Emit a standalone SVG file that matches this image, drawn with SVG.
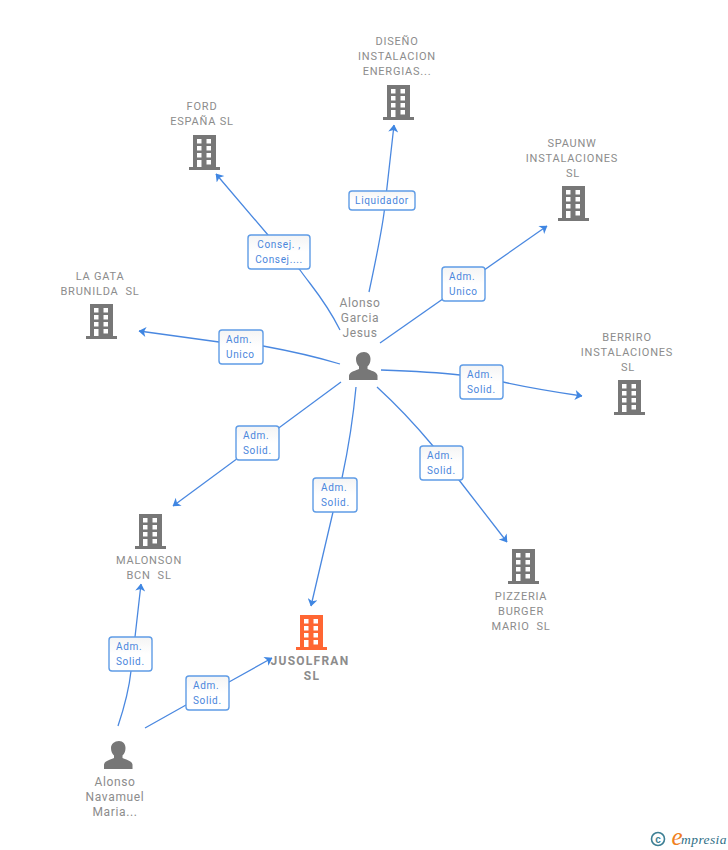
<svg xmlns="http://www.w3.org/2000/svg" width="728" height="850" viewBox="0 0 728 850">
<style>
text{font-family:Roboto,"Liberation Sans",sans-serif;text-anchor:middle}
.n{font-size:11px;fill:#8c8c8c;letter-spacing:.78px}
.p{font-size:12px;fill:#8c8c8c;letter-spacing:.65px}
.l{font-size:10px;fill:#4a86dc;letter-spacing:.65px}
.s{text-anchor:start}
.t{font-size:12px;font-weight:700;fill:#8c8c8c;letter-spacing:1.25px}
.e{fill:none;stroke:#4a88e0;stroke-width:1.3}
.b{fill:url(#g);stroke:#5f9ce6;stroke-width:1.4}
</style>
<defs>
<marker id="a" viewBox="0 0 10 10" refX="9.500" refY="5" markerWidth="10" markerHeight="10" markerUnits="userSpaceOnUse" orient="auto"><path d="M2.500 0L10 5L2.500 10L4.500 5Z" fill="#3f86e2"/></marker>
<linearGradient id="g" x1="0" y1="0" x2="0" y2="1"><stop offset="0" stop-color="#f4f4f4"/><stop offset=".5" stop-color="#fff"/></linearGradient>
<path id="bld" fill-rule="evenodd" d="M4 0H27V32H31V35H0V32H4ZM8 4V8.500H12.500V4ZM17.500 4V8.500H22V4ZM8 11V15.500H12.500V11ZM17.500 11V15.500H22V11ZM8 18V22.500H12.500V18ZM17.500 18V22.500H22V18ZM8 25V32H12.500V25ZM17.500 25V29.500H22V25Z"/>
<path id="per" d="M15 0C19 0 21.500 3 21.500 7C21.500 10 20.500 12.500 18.500 14.500V17C21 18.500 28 19.500 28.500 23.500V28H0V23.500C.5 19.500 7.500 18.500 10 17V14.500C8 12.500 7 10 7 7C7 3 10.500 0 15 0Z"/>
</defs>
<g id="connectors">
<path class="e" marker-end="url(#a)" d="M369 292C378 250 383 225 385 205L394 125"/>
<path class="e" marker-end="url(#a)" d="M340 330C325 300 312 287 300 270L268 235L216 174"/>
<path class="e" marker-end="url(#a)" d="M380 343L547 226"/>
<path class="e" marker-end="url(#a)" d="M340 364C310 355 285 350 263 346L219 342L139 331"/>
<path class="e" marker-end="url(#a)" d="M381 370C410 371 435 372 460 375L503 382C530 388 555 392 582 396"/>
<path class="e" marker-end="url(#a)" d="M341 382L173 506"/>
<path class="e" marker-end="url(#a)" d="M377 387C400 408 418 428 433 446L459 480L507 542"/>
<path class="e" marker-end="url(#a)" d="M356 387C353 420 348 450 342 478L333 512L311 606"/>
<path class="e" marker-end="url(#a)" d="M118 726C125 705 129 690 131 671L135 637L141 584"/>
<path class="e" marker-end="url(#a)" d="M145 728L186 705L229 682L272 658"/>
</g>
<g id="label-liquidador"><rect class="b" x="349" y="191" width="66" height="19" rx="3"/><text class="l" x="382" y="204">Liquidador</text></g>
<g id="label-consej"><rect class="b" x="248" y="235" width="62" height="34" rx="3"/><text class="l" x="279" y="248">Consej. ,</text><text class="l" x="279" y="263">Consej....</text></g>
<g id="label-unico1"><rect class="b" x="442" y="267" width="43" height="34" rx="3"/><text class="l s" x="449" y="280">Adm.</text><text class="l s" x="449" y="295">Unico</text></g>
<g id="label-unico2"><rect class="b" x="219" y="330" width="44" height="34" rx="3"/><text class="l s" x="226" y="343">Adm.</text><text class="l s" x="226" y="358">Unico</text></g>
<g id="label-solid1"><rect class="b" x="460" y="365" width="43" height="34" rx="3"/><text class="l s" x="467" y="378">Adm.</text><text class="l s" x="467" y="393">Solid.</text></g>
<g id="label-solid2"><rect class="b" x="236" y="426" width="43" height="34" rx="3"/><text class="l s" x="243" y="439">Adm.</text><text class="l s" x="243" y="454">Solid.</text></g>
<g id="label-solid3"><rect class="b" x="420" y="446" width="43" height="34" rx="3"/><text class="l s" x="427" y="459">Adm.</text><text class="l s" x="427" y="474">Solid.</text></g>
<g id="label-solid4"><rect class="b" x="313" y="478" width="44" height="34" rx="3"/><text class="l s" x="321" y="491">Adm.</text><text class="l s" x="321" y="506">Solid.</text></g>
<g id="label-solid5"><rect class="b" x="109" y="637" width="43" height="34" rx="3"/><text class="l s" x="116" y="650">Adm.</text><text class="l s" x="116" y="665">Solid.</text></g>
<g id="label-solid6"><rect class="b" x="186" y="676" width="43" height="34" rx="3"/><text class="l s" x="193" y="689">Adm.</text><text class="l s" x="193" y="704">Solid.</text></g>
<g id="node-diseno"><text class="n" x="397" y="45">DISEÑO</text><text class="n" x="397" y="60">INSTALACION</text><text class="n" x="397" y="75">ENERGIAS...</text><use href="#bld" x="383" y="85" fill="#777"/></g>
<g id="node-ford"><text class="n" x="202" y="110">FORD</text><text class="n" x="202" y="125">ESPAÑA SL</text><use href="#bld" x="189" y="135" fill="#777"/></g>
<g id="node-spaunw"><text class="n" x="572" y="147">SPAUNW</text><text class="n" x="572" y="162">INSTALACIONES</text><text class="n" x="573" y="177">SL</text><use href="#bld" x="558" y="186" fill="#777"/></g>
<g id="node-lagata"><text class="n" x="100" y="280">LA GATA</text><text class="n" x="100" y="295">BRUNILDA&#160; SL</text><use href="#bld" x="86" y="304" fill="#777"/></g>
<g id="node-berriro"><text class="n" x="627" y="341">BERRIRO</text><text class="n" x="627" y="356">INSTALACIONES</text><text class="n" x="628" y="371">SL</text><use href="#bld" x="614" y="380" fill="#777"/></g>
<g id="node-malonson"><use href="#bld" x="135" y="514" fill="#777"/><text class="n" x="149" y="564">MALONSON</text><text class="n" x="149" y="579">BCN&#160; SL</text></g>
<g id="node-pizzeria"><use href="#bld" x="508" y="549" fill="#777"/><text class="n" x="521" y="600">PIZZERIA</text><text class="n" x="521" y="615">BURGER</text><text class="n" x="521" y="630">MARIO&#160; SL</text></g>
<g id="node-jusolfran"><use href="#bld" x="296" y="615" fill="#ff6633"/><text class="t" x="310" y="665">JUSOLFRAN</text><text class="t" x="312" y="680">SL</text></g>
<g id="node-garcia"><text class="p" x="360" y="307">Alonso</text><text class="p" x="360" y="322">Garcia</text><text class="p" x="360" y="337">Jesus</text><use href="#per" x="349" y="352" fill="#777"/></g>
<g id="node-navamuel"><use href="#per" x="104" y="741" fill="#777"/><text class="p" x="115" y="786">Alonso</text><text class="p" x="115" y="801">Navamuel</text><text class="p" x="115" y="816">Maria...</text></g>
<g id="logo"><circle cx="658" cy="839" r="6.500" fill="none" stroke="#3d7f94" stroke-width="1.600"/><text x="658" y="842.500" style="font-size:10px;font-weight:700;fill:#3d7f94;font-family:'Liberation Sans',sans-serif">c</text><text x="677" y="845" style="font-size:25px;font-style:italic;fill:#f08020;font-family:'Liberation Serif',serif">e</text><text x="704" y="844" style="font-size:13.500px;font-style:italic;fill:#2f6f86;font-family:'Liberation Serif',serif;letter-spacing:.4px">mpresia</text></g>
</svg>
